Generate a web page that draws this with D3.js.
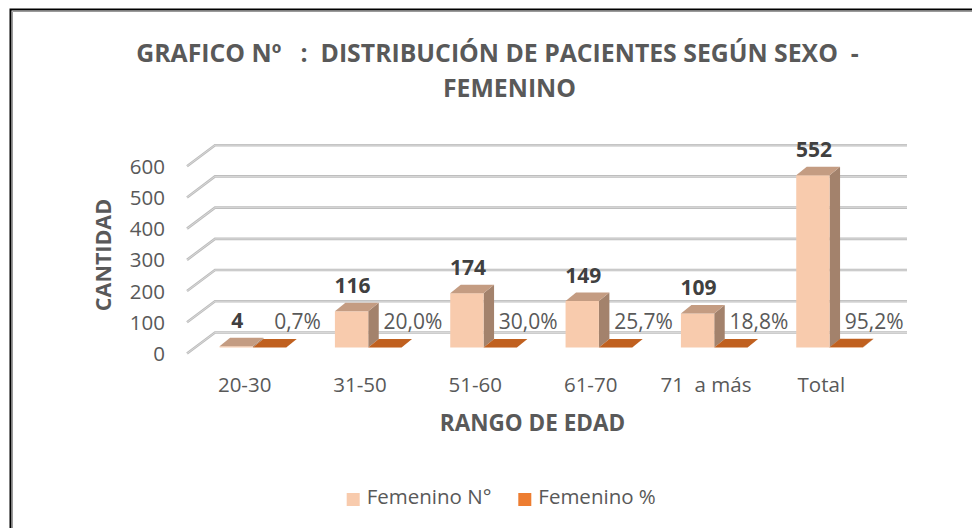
<!DOCTYPE html>
<html><head><meta charset="utf-8">
<script src="https://cdn.jsdelivr.net/npm/d3@7"></script>
<style>body{margin:0;background:#fff} text{font-family:"Open Sans",sans-serif;white-space:pre}</style>
</head><body><svg id="c" width="972" height="528"></svg>
<script>
const categories = ["20-30","31-50","51-60","61-70","71  a más","Total"];
const femeninoN = [4,116,174,149,109,552];
const femeninoPct = [0.007,0.200,0.300,0.257,0.188,0.952];
const yTicks = [0,100,200,300,400,500,600];
const seriesNames = ["Femenino N°","Femenino %"];
const titleLines = ["GRAFICO Nº   :  DISTRIBUCIÓN DE PACIENTES SEGÚN SEXO  -","FEMENINO"];
const axisTitles = {x:"RANGO DE EDAD", y:"CANTIDAD"};

const svg = d3.select("#c");
const gray = "#595959";
const colN = {front:"#F8CBAD", top:"#C49C82", side:"#A3826C"};
const colP = {front:"#ED7D31", top:"#C0601F", side:"#9E4A14"};

// frame
svg.append("path").attr("d","M10.5,528V9.5H972").attr("fill","none").attr("stroke","#000").attr("stroke-width",2);
svg.append("path").attr("d","M12.5,528V11.5H972").attr("fill","none").attr("stroke","#9a9a9a").attr("stroke-width",1);

// scales
const y = d3.scaleLinear().domain([0,600]).range([332.5,145.2]);
const xBack = d3.scaleBand().domain(categories).range([215,907]);
const bw = xBack.bandwidth();
const DX = -28, DY = 21;            // back wall -> front edge
const PX = -20, PY = 15;            // back wall -> bar plane
const BDX = 10.5, BDY = -8.5;       // bar depth

// gridlines
const grid = svg.append("g");
yTicks.forEach(t => {
  const yb = y(t);
  grid.append("path")
    .attr("d", `M${215+DX},${yb+DY}L215,${yb}L907,${yb}`)
    .attr("fill","none").attr("stroke","#bdbdbd").attr("stroke-width",2.6);
  grid.append("path")
    .attr("d", `M${215+DX},${yb+DY}L215,${yb}L907,${yb}`)
    .attr("fill","none").attr("stroke","#dedede").attr("stroke-width",0.8);
});

// y tick labels
svg.append("g").selectAll("text").data(yTicks).join("text")
  .attr("x",165).attr("y",d=>y(d)+DY+7.5).attr("text-anchor","end")
  .attr("font-size",20.5).attr("fill",gray).text(d=>d);

function bar(g, x, w, v, col){
  const yb = y(0)+PY, yt = y(v)+PY;
  g.append("path").attr("d",`M${x+w},${yt}L${x+w+BDX},${yt+BDY}L${x+w+BDX},${yb+BDY}L${x+w},${yb}Z`).attr("fill",col.side);
  g.append("rect").attr("x",x).attr("y",yt).attr("width",w).attr("height",Math.max(0,yb-yt)).attr("fill",col.front);
  g.append("path").attr("d",`M${x},${yt}L${x+w},${yt}L${x+w+BDX},${yt+BDY}L${x+BDX},${yt+BDY}Z`).attr("fill",col.top);
  return yt;
}

const fmtPct = d3.formatLocale({decimal:",",thousands:".",grouping:[3],currency:["","€"]}).format(".1%");
const bars = svg.append("g");
const labels = svg.append("g");
categories.forEach((c,i)=>{
  const x0 = xBack(c) + PX + bw*0.213;
  const w = bw*0.289;
  const ytN = bar(bars, x0, w, femeninoN[i], colN);
  const ytP = bar(bars, x0+w, w, femeninoPct[i], colP);
  labels.append("text").attr("x",x0+w/2+1).attr("y",ytN-18.4).attr("text-anchor","middle")
    .attr("font-size",21).attr("font-weight","bold").attr("fill","#404040").text(femeninoN[i]);
  labels.append("text").attr("x",x0+w+w/2+28).attr("y",ytP-18.4).attr("text-anchor","middle")
    .attr("font-size",21).attr("fill",gray).text(fmtPct(femeninoPct[i]));
});

// x labels
svg.append("g").selectAll("text").data(categories).join("text")
  .attr("x",d=>xBack(d)+DX+bw/2).attr("y",392).attr("text-anchor","middle")
  .attr("font-size",20.5).attr("fill",gray).text(d=>d);

// axis titles
svg.append("text").attr("x",532.5).attr("y",431).attr("text-anchor","middle")
  .attr("font-size",22.5).attr("font-weight","bold").attr("fill",gray).text(axisTitles.x);
svg.append("text").attr("transform","translate(111,255) rotate(-90)").attr("text-anchor","middle")
  .attr("font-size",21.5).attr("font-weight","bold").attr("fill",gray).text(axisTitles.y);

// title
svg.append("text").attr("x",497.5).attr("y",62).attr("text-anchor","middle")
  .attr("font-size",24.8).attr("font-weight","bold").attr("fill",gray).text(titleLines[0]);
svg.append("text").attr("x",509.5).attr("y",97).attr("text-anchor","middle")
  .attr("font-size",24.8).attr("font-weight","bold").attr("fill",gray).text(titleLines[1]);

// legend
const leg = svg.append("g");
[[346.7,seriesNames[0],colN.front],[518.3,seriesNames[1],colP.front]].forEach(([lx,name,fill])=>{
  leg.append("rect").attr("x",lx).attr("y",493).attr("width",13).attr("height",13).attr("fill",fill);
  leg.append("text").attr("x",lx+20).attr("y",504).attr("font-size",20.5).attr("fill",gray).text(name);
});
</script></body></html>
